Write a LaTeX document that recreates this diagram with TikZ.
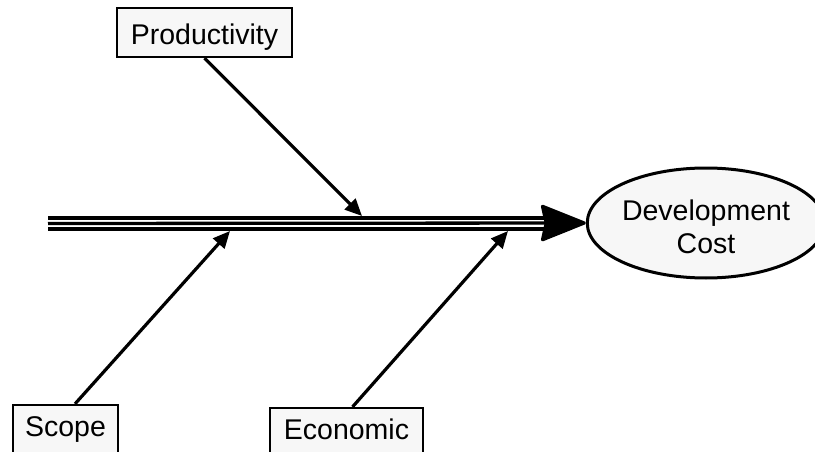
\documentclass[tikz,border=0pt]{standalone}
\usepackage{fontspec}
\setmainfont{Liberation Sans}
\usetikzlibrary{arrows.meta,shapes.geometric}
\begin{document}
\begin{tikzpicture}[x=1pt,y=-1pt,
  labelfont/.style={font=\fontsize{28.5}{33}\selectfont},
  cause/.style={labelfont, draw, line width=2.2pt, fill=gray!6, inner sep=0pt,
    text height=20pt, text depth=8pt},
  effect/.style={labelfont, draw, ellipse, line width=3pt, fill=gray!6,
    inner sep=0pt, align=center, text height=60pt, text depth=0pt},
  bone/.style={line width=3.3pt},
  influence/.style={line width=3.2pt, -{Triangle[length=17pt,width=15pt]}}]
\useasboundingbox (0,0) rectangle (815,452);
\clip (0,0) rectangle (815,452);

% causes and effect
\node[cause, minimum width=175pt, minimum height=49pt,
      text height=25pt, text depth=0pt] (prod) at (204.5,32.5) {Productivity};
\node[cause, minimum width=105pt, minimum height=50pt] (scope) at (65.5,430) {Scope};
\node[cause, minimum width=153pt, minimum height=50pt] (econ) at (346.5,433) {Economic};
\node[effect, minimum width=216pt, minimum height=110pt] (dev) at (706,223) {Development\\Cost};

% backbone: three parallel strokes, the middle one carrying the head
\coordinate (tail) at (48,223.5);
\coordinate (join) at (562,223.5);
\draw[bone] ([yshift=-5.5pt]tail) -- ([yshift=-5.5pt]join);
\draw[bone] ([yshift=5.5pt]tail) -- ([yshift=5.5pt]join);
\draw[bone, -{Stealth[length=48pt,width=38pt,inset=4pt,round]}] (tail) -- (dev.west);

% ribs
\coordinate (p1) at (362,216);
\coordinate (s1) at (230,231);
\coordinate (e1) at (508,231);
\draw[influence] (prod.south) -- (p1);
\draw[influence] ([xshift=9.5pt]scope.north) -- (s1);
\draw[influence] ([xshift=6pt]econ.north) -- (e1);
\end{tikzpicture}
\end{document}
